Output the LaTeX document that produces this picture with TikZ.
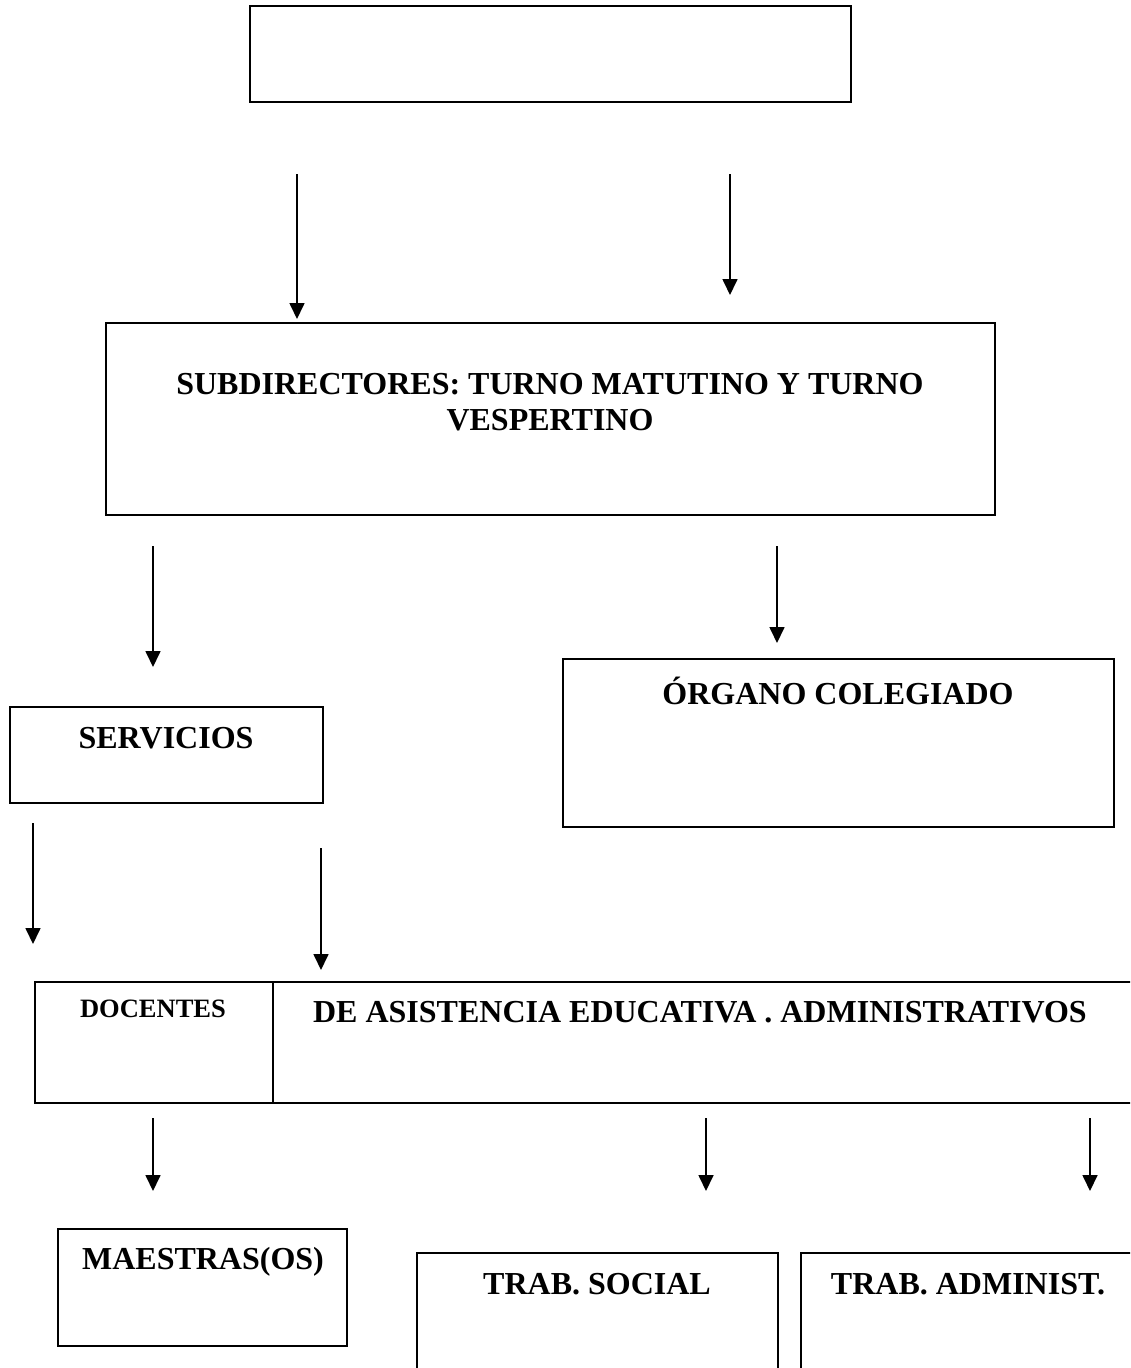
\documentclass[tikz,border=0pt]{standalone}
\usepackage{fontspec}
\setmainfont{Liberation Serif}
\usetikzlibrary{arrows.meta}
\begin{document}
\begin{tikzpicture}[x=1pt,y=-1pt,
  box/.style={draw, line width=1.7pt, rectangle, inner sep=0pt, anchor=north west},
  lbl/.style={font=\bfseries\fontsize{32}{36}\selectfont, inner sep=0pt, align=center},
  small/.style={font=\bfseries\fontsize{26.5}{30}\selectfont, inner sep=0pt},
  arr/.style={line width=1.7pt, -{Triangle[width=15pt,length=16pt]}}]
\useasboundingbox (0,0) rectangle (1130,1368);
\clip (0,0) rectangle (1130,1368);
% boxes
\node[box, minimum width=601, minimum height=96] (top) at (249,5) {};
\node[box, minimum width=889, minimum height=192] (sub) at (105,322) {};
\node[box, minimum width=551, minimum height=168] (org) at (562,658) {};
\node[box, minimum width=313, minimum height=96] (serv) at (9,706) {};
\node[box, minimum width=1110, minimum height=121] (doc) at (34,981) {};
\draw[line width=1.7pt] (273,981) -- (273,1102);
\node[box, minimum width=289, minimum height=117] (mae) at (57,1228) {};
\node[box, minimum width=361, minimum height=130] (soc) at (416,1252) {};
\node[box, minimum width=340, minimum height=130] (adm) at (800,1252) {};
% texts
\node[lbl] (tsub) at (550,402) {SUBDIRECTORES: TURNO MATUTINO Y TURNO\\VESPERTINO};
\node[lbl] (torg) at (838,691) {ÓRGANO COLEGIADO};
\node[lbl] (tserv) at (166,738) {SERVICIOS};
\node[small] (tdoc) at (153,1009) {DOCENTES};
\node[lbl] (tasis) at (700,1012) {DE ASISTENCIA EDUCATIVA . ADMINISTRATIVOS};
\node[lbl] (tmae) at (203,1262) {MAESTRAS(OS)};
\node[lbl] (tsoc) at (597,1284) {TRAB. SOCIAL};
\node[lbl] (tadm) at (968,1284) {TRAB. ADMINIST.};
% arrow end points
\coordinate (a1s) at (297,174); \coordinate (a1e) at (297,319);
\coordinate (a2s) at (730,174); \coordinate (a2e) at (730,295);
\coordinate (a3s) at (153,546); \coordinate (a3e) at (153,667);
\coordinate (a4s) at (777,546); \coordinate (a4e) at (777,643);
\coordinate (a5s) at (33,823); \coordinate (a5e) at (33,944);
\coordinate (a6s) at (321,848); \coordinate (a6e) at (321,970);
\coordinate (a7s) at (153,1118); \coordinate (a7e) at (153,1191);
\coordinate (a8s) at (706,1118); \coordinate (a8e) at (706,1191);
\coordinate (a9s) at (1090,1118); \coordinate (a9e) at (1090,1191);
\foreach \i in {1,...,9} \draw[arr] (a\i s) -- (a\i e);
\end{tikzpicture}
\end{document}
